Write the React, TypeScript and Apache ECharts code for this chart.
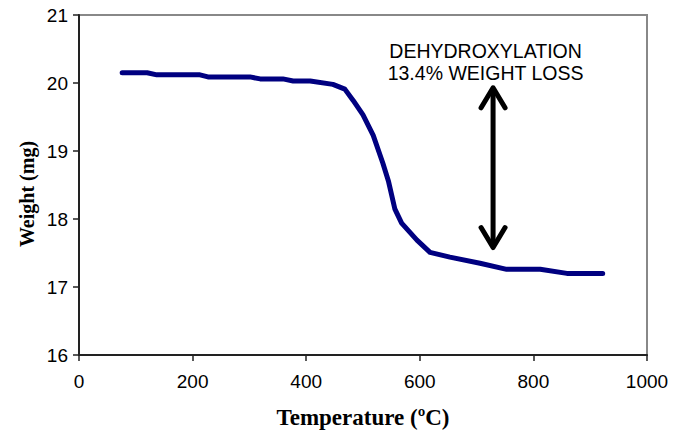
import React, { useEffect, useRef } from "react";
import * as echarts from "echarts";

const temps = [76, 120, 137, 213, 227, 301, 319, 359, 377, 407, 447, 468, 483, 500, 518, 535, 545, 556, 568, 595, 618, 653, 706, 753, 812, 859, 922];
const weights = [20.15, 20.15, 20.12, 20.12, 20.09, 20.09, 20.06, 20.06, 20.03, 20.03, 19.98, 19.91, 19.74, 19.53, 19.23, 18.82, 18.55, 18.15, 17.94, 17.69, 17.51, 17.44, 17.35, 17.26, 17.26, 17.2, 17.2];

const arrowTemp = 729;
const arrowLow = 17.58;
const arrowHigh = 19.93;
const annotationLines = ["DEHYDROXYLATION", "13.4% WEIGHT LOSS"];

const xTitle = "Temperature (ºC)";
const yTitle = "Weight (mg)";

export default function App() {
  const ref = useRef<HTMLDivElement>(null);
  useEffect(() => {
    if (!ref.current) return;
    const chart = echarts.init(ref.current, undefined, { renderer: "svg" });
    const sans = "Liberation Sans, Arial, sans-serif";
    const serif = "Liberation Serif, Times New Roman, serif";
    const axisColor = "#222";
    chart.setOption({
      animation: false,
      backgroundColor: "#fff",
      grid: {
        left: 79,
        right: 28,
        top: 15,
        bottom: 77,
        show: true,
        borderColor: "#888",
        borderWidth: 2,
      },
      xAxis: {
        type: "value",
        min: 0,
        max: 1000,
        interval: 200,
        axisLine: { show: true, lineStyle: { color: axisColor, width: 2 } },
        axisTick: { show: true, length: 6, lineStyle: { color: axisColor, width: 1.5 } },
        splitLine: { show: false },
        axisLabel: {
          color: "#000",
          fontFamily: sans,
          fontSize: 19,
          margin: 17,
          formatter: (v: number) => String(v),
        },
      },
      yAxis: {
        type: "value",
        min: 16,
        max: 21,
        interval: 1,
        axisLine: { show: true, lineStyle: { color: axisColor, width: 2 } },
        axisTick: { show: true, length: 6, lineStyle: { color: axisColor, width: 1.5 } },
        splitLine: { show: false },
        axisLabel: {
          color: "#000",
          fontFamily: sans,
          fontSize: 19,
          margin: 11,
          formatter: (v: number) => String(v),
        },
      },
      graphic: [
        {
          type: "text",
          x: 363,
          y: 417,
          style: {
            text: xTitle,
            font: `bold 23px ${serif}`,
            fill: "#000",
            textAlign: "center",
            textVerticalAlign: "middle",
          },
        },
        {
          type: "text",
          x: 27,
          y: 194,
          rotation: Math.PI / 2,
          style: {
            text: yTitle,
            font: `bold 20px ${serif}`,
            fill: "#000",
            textAlign: "center",
            textVerticalAlign: "middle",
          },
        },
      ],
      series: [
        {
          type: "line",
          data: temps.map((t, i) => [t, weights[i]]),
          showSymbol: false,
          symbol: "none",
          smooth: false,
          lineStyle: { color: "#000080", width: 5, cap: "round", join: "round" },
        },
        {
          type: "custom",
          data: [[arrowTemp, arrowLow, arrowHigh]],
          clip: false,
          renderItem: (params: any, api: any) => {
            const top = api.coord([api.value(0), api.value(2)]);
            const bot = api.coord([api.value(0), api.value(1)]);
            const st = {
              stroke: "#000",
              lineWidth: 5,
              fill: null,
              lineCap: "round",
              lineJoin: "round",
            };
            return {
              type: "group",
              children: [
                {
                  type: "line",
                  shape: { x1: top[0], y1: top[1] + 2, x2: bot[0], y2: bot[1] - 2 },
                  style: st,
                },
                {
                  type: "polyline",
                  shape: { points: [[top[0] - 12, top[1] + 20], [top[0], top[1]], [top[0] + 12, top[1] + 20]] },
                  style: st,
                },
                {
                  type: "polyline",
                  shape: { points: [[bot[0] - 12, bot[1] - 20], [bot[0], bot[1]], [bot[0] + 12, bot[1] - 20]] },
                  style: st,
                },
                {
                  type: "text",
                  x: top[0] - 7.5,
                  y: top[1] - 4,
                  style: {
                    text: annotationLines.join("\n"),
                    font: `19.5px ${sans}`,
                    fill: "#000",
                    textAlign: "center",
                    textVerticalAlign: "bottom",
                    lineHeight: 22,
                  },
                },
              ],
            };
          },
        },
      ],
    });
    return () => chart.dispose();
  }, []);
  return (
    <div
      ref={ref}
      style={{ position: "fixed", left: 0, top: 0, width: 675, height: 432, background: "#fff" }}
    />
  );
}
